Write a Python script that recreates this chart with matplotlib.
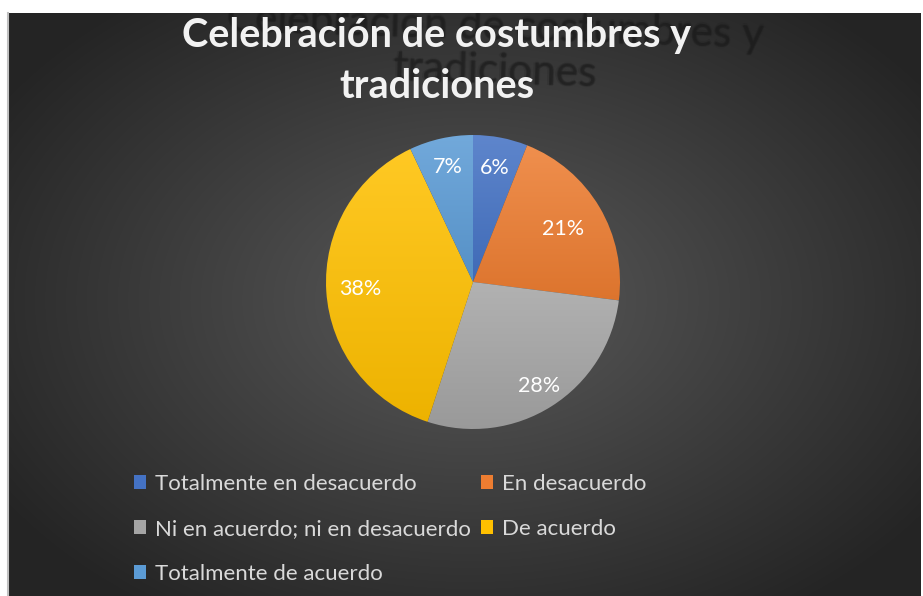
import numpy as np
import matplotlib
matplotlib.use("Agg")
import matplotlib.pyplot as plt
from matplotlib.patches import Patch
from matplotlib import colors as mcolors

plt.rcParams['font.family'] = ['Lato', 'DejaVu Sans']

# ---- data ----
title = "Celebración de costumbres y\ntradiciones"
categories = ["Totalmente en desacuerdo", "En desacuerdo",
              "Ni en acuerdo; ni en desacuerdo", "De acuerdo",
              "Totalmente de acuerdo"]
values = [6, 21, 28, 38, 7]
pct_labels = ["6%", "21%", "28%", "38%", "7%"]

# ---- style ----
base_colors = ["#4472C4", "#ED7D31", "#A5A5A5", "#FFC000", "#5B9BD5"]
label_radius = [0.79, 0.71, 0.84, 0.77, 0.80]

W, H = 923, 596
fig = plt.figure(figsize=(W / 100, H / 100), dpi=100, facecolor="white")

# background panel (radial gradient)
x0, x1, ytop = 8, 921, 13
bg = fig.add_axes([x0 / W, 0, (x1 - x0) / W, (H - ytop) / H])
bg.set_xlim(x0, x1)
bg.set_ylim(H, ytop)
yy, xx = np.mgrid[ytop:H:1.0, x0:x1:1.0]
cx, cy = 470, 300
d = np.sqrt(((xx - cx) / 560) ** 2 + ((yy - cy) / 380) ** 2)
d = np.clip(d, 0, 1)
c_in = np.array(mcolors.to_rgb("#5a5a5a"))
c_out = np.array(mcolors.to_rgb("#242424"))
img = c_in[None, None, :] * (1 - d[..., None]) + c_out[None, None, :] * d[..., None]
bg.imshow(img, extent=(x0, x1, H, ytop), aspect="auto", interpolation="bilinear")
bg.set_xticks([]); bg.set_yticks([])
for s in ["top", "bottom", "right"]:
    bg.spines[s].set_visible(False)
bg.spines["left"].set_color("#c0c0c0")
bg.spines["left"].set_linewidth(1.5)

# title shadow (soft, clipped to the panel)
for dx, dy, a in [(0, 0, 0.35), (1.2, 0, 0.18), (-1.2, 0, 0.18), (0, 1.2, 0.18), (0, -1.2, 0.18)]:
    bg.text(496 + dx, 8 + dy, title, ha="center", va="top",
            fontsize=30.5, fontweight="normal", color="#1a1a1a", alpha=a,
            linespacing=1.2, rotation=-1.8, rotation_mode="anchor", clip_on=True)

# title
fig.text(437 / W, 1 - 17 / H, title, ha="center", va="top", fontsize=28.5,
         fontweight="bold", color="#f2f2f2", linespacing=1.45)

# pie
R = 147
pcx, pcy = 473, 282
half = 160
ax = fig.add_axes([(pcx - half) / W, (H - pcy - half) / H, 2 * half / W, 2 * half / H])

wedges, _ = ax.pie(values, colors=base_colors, startangle=90, counterclock=False,
                   radius=1.0, wedgeprops=dict(linewidth=0))
ax.set_aspect("equal")
ax.axis("off")


def shade(c, f):
    c = np.array(mcolors.to_rgb(c))
    if f >= 0:
        return c + (1 - c) * f
    return c * (1 + f)


for w, col, lab, rr in zip(wedges, base_colors, pct_labels, label_radius):
    t1, t2 = w.theta1, w.theta2
    th = np.radians(np.linspace(t1, t2, 200))
    ys = np.concatenate([[0], np.sin(th)])
    ymin, ymax = ys.min(), ys.max()
    top = shade(col, 0.14)
    bot = shade(col, -0.07)
    n = 256
    t = np.linspace(0, 1, n)[:, None]
    grad = top[None, :] * (1 - t) + bot[None, :] * t
    grad = grad[:, None, :]
    w.set_facecolor("none")
    im = ax.imshow(grad, extent=(-1.05, 1.05, ymin, ymax), aspect="auto",
                   interpolation="bilinear", zorder=1)
    im.set_clip_path(w)
    mid = np.radians((t1 + t2) / 2)
    ax.text(rr * np.cos(mid), rr * np.sin(mid), lab, ha="center", va="center",
            color="white", fontsize=15.5, zorder=5)
ax.set_xlim(-half / R, half / R)
ax.set_ylim(-half / R, half / R)

# legend
handles = [Patch(facecolor=c, edgecolor="none") for c in base_colors]
order = [0, 2, 4, 1, 3]
leg = fig.legend([handles[i] for i in order], [categories[i] for i in order],
                 ncol=2, loc="upper left", bbox_to_anchor=(125 / W, 1 - 465 / H),
                 frameon=False, fontsize=16, labelcolor="#d9d9d9",
                 handlelength=0.55, handleheight=0.55, handletextpad=0.4,
                 columnspacing=0.45, labelspacing=1.12, borderaxespad=0)

fig.savefig("out.png", dpi=100, facecolor="white")
